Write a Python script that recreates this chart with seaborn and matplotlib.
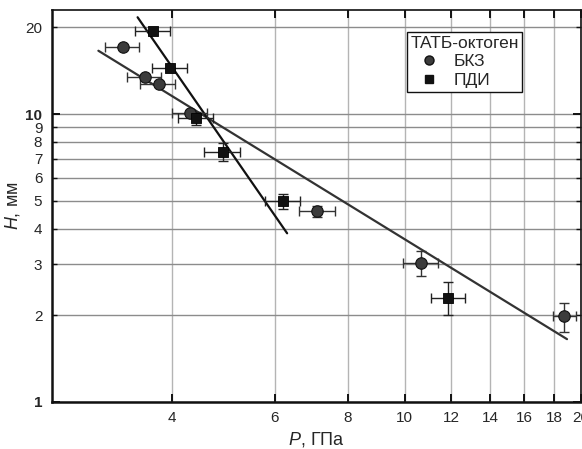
import numpy as np
import pandas as pd
import matplotlib
matplotlib.use("Agg")
import matplotlib.pyplot as plt
from matplotlib.ticker import FixedLocator, FixedFormatter, NullLocator
from matplotlib.lines import Line2D
import seaborn as sns

# ---- data ----
bkz_p = [3.30, 3.60, 3.80, 4.30, 7.09, 10.67, 18.74]
bkz_h = [17.05, 13.41, 12.68, 10.10, 4.60, 3.04, 1.98]
bkz_perr = [0.22, 0.24, 0.26, 0.29, 0.50, 0.75, 0.85]
bkz_herr = [0.0, 0.0, 0.0, 0.0, 0.20, 0.30, 0.23]

pdi_p = [3.72, 3.98, 4.41, 4.89, 6.20, 11.87]
pdi_h = [19.43, 14.49, 9.66, 7.39, 4.98, 2.30]
pdi_perr = [0.26, 0.27, 0.30, 0.34, 0.42, 0.80]
pdi_herr = [0.0, 0.0, 0.50, 0.55, 0.30, 0.30]

fit_bkz_p = [3.00, 18.93]
fit_bkz_h = [16.6, 1.65]
fit_pdi_p = [3.50, 6.30]
fit_pdi_h = [21.7, 3.85]

x_ticks = [4, 6, 8, 10, 12, 14, 16, 18, 20]
y_major = [1, 10]
y_minor = [2, 3, 4, 5, 6, 7, 8, 9, 20]

legend_title = "ТАТБ-октоген"
series_names = ["БКЗ", "ПДИ"]

# ---- style ----
sns.set_style("ticks")
plt.rcParams['font.family'] = ['Liberation Sans', 'DejaVu Sans']
plt.rcParams['mathtext.fontset'] = 'custom'
plt.rcParams['mathtext.it'] = 'Liberation Sans:italic'
plt.rcParams['mathtext.rm'] = 'Liberation Sans'

fig = plt.figure(figsize=(5.82, 4.49), dpi=100)
ax = fig.add_axes([52 / 582, 1 - 401.7 / 449, 529 / 582, (401.7 - 10) / 449])

df_b = pd.DataFrame({"P": bkz_p, "H": bkz_h, "s": series_names[0]})
df_d = pd.DataFrame({"P": pdi_p, "H": pdi_h, "s": series_names[1]})

ax.set_xscale("log")
ax.set_yscale("log")

# fit lines
sns.lineplot(x=fit_bkz_p, y=fit_bkz_h, ax=ax, color="#333333", lw=1.6, zorder=3)
sns.lineplot(x=fit_pdi_p, y=fit_pdi_h, ax=ax, color="#111111", lw=1.6, zorder=3)

# error bars
ax.errorbar(bkz_p, bkz_h, xerr=bkz_perr, yerr=bkz_herr, fmt="none",
            ecolor="#333333", elinewidth=1.0, capsize=3.5, capthick=1.0, zorder=4)
ax.errorbar(pdi_p, pdi_h, xerr=pdi_perr, yerr=pdi_herr, fmt="none",
            ecolor="#222222", elinewidth=1.0, capsize=3.5, capthick=1.0, zorder=4)

# markers
sns.scatterplot(data=df_b, x="P", y="H", ax=ax, marker="o", s=68,
                color="#3c3c3c", edgecolor="#111111", linewidth=0.8, zorder=5, legend=False)
sns.scatterplot(data=df_d, x="P", y="H", ax=ax, marker="s", s=52,
                color="#111111", edgecolor="#000000", linewidth=0.6, zorder=5, legend=False)

ax.set_xlim(2.5, 20)
ax.set_ylim(1, 23)

# ticks
ax.xaxis.set_major_locator(FixedLocator(x_ticks))
ax.xaxis.set_major_formatter(FixedFormatter([str(t) for t in x_ticks]))
ax.xaxis.set_minor_locator(NullLocator())
ax.yaxis.set_major_locator(FixedLocator(y_major))
ax.yaxis.set_major_formatter(FixedFormatter([str(t) for t in y_major]))
ax.yaxis.set_minor_locator(FixedLocator(y_minor))
ax.yaxis.set_minor_formatter(FixedFormatter([str(t) for t in y_minor]))

ax.tick_params(axis="both", which="major", direction="in", length=6, width=1.4,
               top=True, right=True, labelsize=11, pad=7, color="#111111")
ax.tick_params(axis="y", which="minor", direction="in", length=3.5, width=1.0,
               right=True, labelsize=11, pad=7, color="#111111")
for lab in ax.get_yticklabels():
    lab.set_fontweight("bold")
ax.tick_params(axis="x", which="major", pad=7)

ax.grid(True, axis="x", which="major", color="#b4b4b4", lw=1.0, zorder=0)
ax.grid(True, axis="y", which="both", color="#8c8c8c", lw=1.0, zorder=0)
ax.set_axisbelow(True)

for side in ["left", "bottom"]:
    ax.spines[side].set_linewidth(1.8)
    ax.spines[side].set_color("#111111")
for side in ["top", "right"]:
    ax.spines[side].set_linewidth(1.2)
    ax.spines[side].set_color("#111111")

ax.set_xlabel("$P$, ГПа", fontsize=13, labelpad=3)
ax.set_ylabel("$H$, мм", fontsize=13, labelpad=2)

handles = [
    Line2D([], [], ls="none", marker="o", color="#3c3c3c", markeredgecolor="#111111",
           markersize=6.5, label=series_names[0]),
    Line2D([], [], ls="none", marker="s", color="#111111", markersize=5.5, label=series_names[1]),
]
leg = ax.legend(handles=handles, title=legend_title, loc="upper left",
                bbox_to_anchor=(0.6705, 0.943), fontsize=12.5, title_fontsize=12.5,
                frameon=True, fancybox=False, framealpha=1, edgecolor="#111111",
                borderpad=0.2, handletextpad=0.3, labelspacing=0.2, handlelength=2.2,
                borderaxespad=0)
leg.get_frame().set_linewidth(1.0)
leg._legend_box.align = "left"

fig.savefig("out.png", dpi=100)
